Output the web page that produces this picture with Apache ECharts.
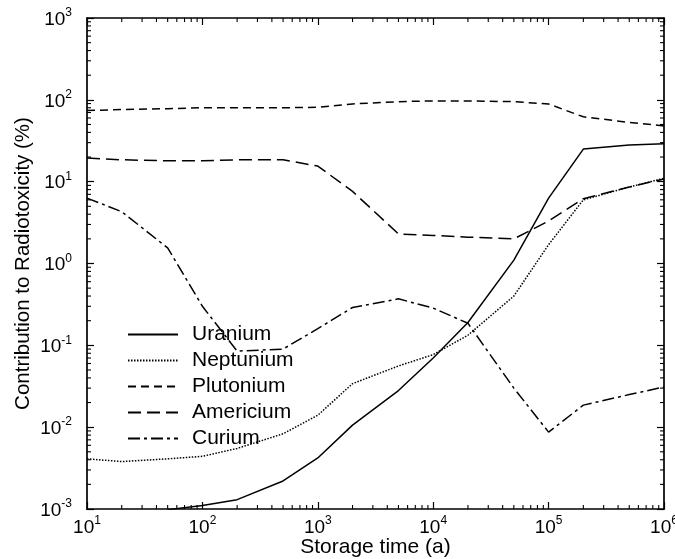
<!DOCTYPE html>
<html>
<head>
<meta charset="utf-8">
<script src="https://cdn.jsdelivr.net/npm/echarts@6/dist/echarts.min.js"></script>
<style>
    html, body { margin: 0; padding: 0; background: #fff; }
    #main_echart { width: 675px; height: 559px; }
</style>
</head>
<body>
<div id="main_echart"></div>
<script>
var times = [10, 20, 50, 100, 200, 500, 1e3, 2e3, 5e3, 1e4, 2e4, 5e4, 1e5, 2e5, 5e5, 1e6];
var uranium = [null, null, 0.00098, 0.0011, 0.0013, 0.0022, 0.0042, 0.0106, 0.028, 0.07, 0.19, 1.1, 6.3, 25, 28, 29];
var neptunium = [0.0041, 0.0038, 0.0041, 0.0044, 0.0055, 0.0083, 0.014, 0.034, 0.056, 0.077, 0.133, 0.4, 1.7, 6.0, 8.6, 11];
var plutonium = [74, 76, 78, 80, 80, 80, 81, 89, 95, 97, 97, 95, 89, 62, 53, 48];
var americium = [19.5, 18.5, 18, 18, 18.5, 18.5, 15.5, 7.6, 2.3, 2.2, 2.1, 2.0, 3.3, 6.2, 8.6, 10.8];
var curium = [6.3, 4.3, 1.55, 0.3, 0.085, 0.09, 0.16, 0.29, 0.37, 0.285, 0.186, 0.03, 0.0087, 0.0186, 0.025, 0.031];
var names = ['Uranium', 'Neptunium', 'Plutonium', 'Americium', 'Curium'];
var dashes = ['solid', [1.5, 1.5], [8, 5], [13, 6], [12, 4, 3, 4]];

var xTickExp = [1, 2, 3, 4, 5, 6];
var yTickExp = [-3, -2, -1, 0, 1, 2, 3];

var FONT = 'Liberation Sans';
var myChart = echarts.init(document.getElementById('main_echart'));

function pairs(vals) {
    var out = [];
    for (var i = 0; i < times.length; i++) {
        if (vals[i] != null) out.push([times[i], vals[i]]);
    }
    return out;
}

function powLabel(v) {
    var e = Math.round(Math.log(v) / Math.LN10);
    return '{b|10}{s|' + e + '}';
}

var richLabel = {
    b: { fontSize: 19, fontFamily: FONT, color: '#000', verticalAlign: 'bottom', lineHeight: 22 },
    s: { fontSize: 12, fontFamily: FONT, color: '#000', verticalAlign: 'top', lineHeight: 22 }
};

var seriesData = [uranium, neptunium, plutonium, americium, curium];
var seriesarr = [];
for (var i = 0; i < names.length; i++) {
    seriesarr.push({
        name: names[i],
        type: 'line',
        symbol: 'none',
        xAxisIndex: 0,
        yAxisIndex: 0,
        lineStyle: { color: '#000', width: 1.5, type: dashes[i] },
        itemStyle: { color: '#000' },
        data: pairs(seriesData[i])
    });
}

var axisLine = { show: true, onZero: false, lineStyle: { color: '#000', width: 1.7 } };
var axisTick = { show: true, inside: true, length: 7, lineStyle: { color: '#000', width: 1.2 } };

var option = {
    animation: false,
    grid: { left: 87, right: 11, top: 18, bottom: 50, containLabel: false, outerBoundsMode: 'none' },
    legend: {
        orient: 'vertical',
        left: 127,
        top: 324,
        padding: 0,
        itemWidth: 50,
        itemHeight: 14,
        itemGap: 5,
        data: names,
        itemStyle: { opacity: 0 },
        textStyle: { fontSize: 21, fontFamily: FONT, color: '#000', lineHeight: 21, padding: [0, 0, 0, 9] }
    },
    xAxis: [{
        type: 'log',
        logBase: 10,
        min: Math.pow(10, xTickExp[0]),
        max: Math.pow(10, xTickExp[xTickExp.length - 1]),
        position: 'bottom',
        name: 'Storage time (a)',
        nameLocation: 'middle',
        nameGap: 28,
        nameMoveOverlap: false,
        nameTextStyle: { fontSize: 21, fontFamily: FONT, color: '#000' },
        axisLine: axisLine,
        axisTick: axisTick,
        splitLine: { show: false },
        axisLabel: { margin: 6, formatter: powLabel, rich: richLabel }
    }, {
        type: 'log',
        logBase: 10,
        min: Math.pow(10, xTickExp[0]),
        max: Math.pow(10, xTickExp[xTickExp.length - 1]),
        position: 'top',
        axisLine: axisLine,
        axisTick: axisTick,
        splitLine: { show: false },
        axisLabel: { show: false }
    }],
    yAxis: [{
        type: 'log',
        logBase: 10,
        min: Math.pow(10, yTickExp[0]),
        max: Math.pow(10, yTickExp[yTickExp.length - 1]),
        position: 'left',
        name: 'Contribution to Radiotoxicity (%)',
        nameLocation: 'middle',
        nameGap: 53,
        nameMoveOverlap: false,
        nameTextStyle: { fontSize: 20.5, fontFamily: FONT, color: '#000' },
        axisLine: axisLine,
        axisTick: axisTick,
        splitLine: { show: false },
        axisLabel: { margin: 15, formatter: powLabel, rich: richLabel }
    }, {
        type: 'log',
        logBase: 10,
        min: Math.pow(10, yTickExp[0]),
        max: Math.pow(10, yTickExp[yTickExp.length - 1]),
        position: 'right',
        axisLine: axisLine,
        axisTick: axisTick,
        splitLine: { show: false },
        axisLabel: { show: false }
    }],
    series: seriesarr
};

myChart.setOption(option);

// minor ticks at 2..9 of every decade, placed through the axis scales
var minor = [];
var g = myChart.getModel().getComponent('grid').coordinateSystem.getRect();
var tl = 4;
function tickLine(x1, y1, x2, y2) {
    minor.push({
        type: 'line',
        silent: true,
        shape: { x1: x1, y1: y1, x2: x2, y2: y2 },
        style: { stroke: '#000', lineWidth: 1.1 }
    });
}
for (var d = xTickExp[0]; d < xTickExp[xTickExp.length - 1]; d++) {
    for (var m = 2; m <= 9; m++) {
        var px = myChart.convertToPixel({ xAxisIndex: 0 }, m * Math.pow(10, d));
        tickLine(px, g.y + g.height, px, g.y + g.height - tl);
        tickLine(px, g.y, px, g.y + tl);
    }
}
for (var d2 = yTickExp[0]; d2 < yTickExp[yTickExp.length - 1]; d2++) {
    for (var m2 = 2; m2 <= 9; m2++) {
        var py = myChart.convertToPixel({ yAxisIndex: 0 }, m2 * Math.pow(10, d2));
        tickLine(g.x, py, g.x + tl, py);
        tickLine(g.x + g.width, py, g.x + g.width - tl, py);
    }
}
myChart.setOption({ graphic: minor });
</script>
</body>
</html>
